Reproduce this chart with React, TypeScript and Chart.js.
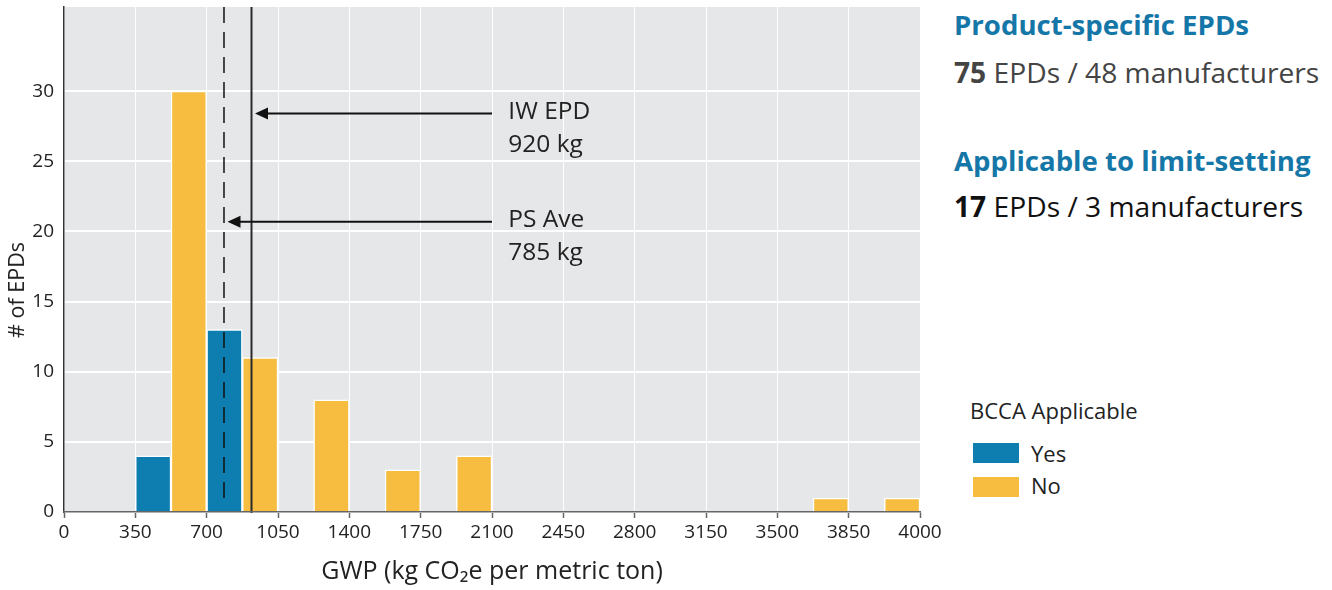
import React, { useEffect, useRef } from "react";
import { Chart, registerables } from "chart.js";

Chart.register(...registerables);

// ---- data ----
const yesBinCenters = [437.5, 787.5];
const yesCounts = [4, 13];
const noBinCenters = [612.5, 962.5, 1312.5, 1662.5, 2012.5, 3762.5, 4112.5];
const noCounts = [30, 11, 8, 3, 4, 1, 1];
const xTickLabels = ["0", "350", "700", "1050", "1400", "1750", "2100", "2450", "2800", "3150", "3500", "3850", "4000"];
const yTickValues = [0, 5, 10, 15, 20, 25, 30];
const seriesNames = ["Yes", "No"];
const markerValues = [920, 785];
const markerNames = ["IW EPD", "PS Ave"];
const markerTexts = ["920 kg", "785 kg"];
const yAxisTitle = "# of EPDs";

// ---- styles / layout ----
const FONT = "'Open Sans', 'Noto Sans', sans-serif";
const BLUE = "#0e7db0";
const ORANGE = "#f6bd41";
const PLOT_BG = "#e6e7e9";
const TEXT = "#222";
const markerArrowLevels = [28.4, 20.7];
const arrowTailValue = 2100;
const annotationTextValue = 2180;

const bgPlugin = {
  id: "plotBg",
  beforeDraw(chart: any) {
    const { ctx, chartArea: a } = chart;
    ctx.save();
    ctx.fillStyle = PLOT_BG;
    ctx.fillRect(a.left, a.top, a.right - a.left, a.bottom - a.top);
    ctx.restore();
  },
  afterDraw(chart: any) {
    const { ctx } = chart;
    ctx.save();
    ctx.translate(18, 290);
    ctx.rotate(-Math.PI / 2);
    ctx.fillStyle = TEXT;
    ctx.font = `21.5px ${FONT}`;
    ctx.textAlign = "center";
    ctx.textBaseline = "middle";
    ctx.fillText(yAxisTitle, 0, 0);
    ctx.restore();
  },
};

const markerPlugin = {
  id: "markers",
  afterDatasetsDraw(chart: any) {
    const { ctx, chartArea: a, scales } = chart;
    const x = scales.x;
    const y = scales.y;
    ctx.save();
    markerValues.forEach((v, i) => {
      const px = x.getPixelForValue(v);
      ctx.beginPath();
      if (i === 0) {
        ctx.setLineDash([]);
        ctx.strokeStyle = "#2a2a2a";
        ctx.lineWidth = 2;
        ctx.moveTo(px, a.top);
        ctx.lineTo(px, a.bottom + 1);
      } else {
        ctx.setLineDash([16, 9]);
        ctx.strokeStyle = "#111";
        ctx.lineWidth = 1.5;
        ctx.moveTo(px, a.top);
        ctx.lineTo(px, a.bottom - 6);
      }
      ctx.stroke();
      ctx.setLineDash([]);

      // arrow
      const ay = y.getPixelForValue(markerArrowLevels[i]);
      const tip = px + 3.5;
      const tail = x.getPixelForValue(arrowTailValue);
      ctx.strokeStyle = "#111";
      ctx.lineWidth = 2;
      ctx.beginPath();
      ctx.moveTo(tail, ay);
      ctx.lineTo(tip + 10, ay);
      ctx.stroke();
      ctx.fillStyle = "#111";
      ctx.beginPath();
      ctx.moveTo(tip, ay);
      ctx.lineTo(tip + 13, ay - 6);
      ctx.lineTo(tip + 13, ay + 6);
      ctx.closePath();
      ctx.fill();

      // text
      const tx = x.getPixelForValue(annotationTextValue);
      ctx.fillStyle = TEXT;
      ctx.font = `24.5px ${FONT}`;
      ctx.textAlign = "left";
      ctx.textBaseline = "alphabetic";
      ctx.fillText(markerNames[i], tx, ay + 5.5);
      ctx.fillText(markerTexts[i], tx, ay + 38.5);
    });
    ctx.restore();
  },
};

export default function App() {
  const canvasRef = useRef<HTMLCanvasElement | null>(null);

  useEffect(() => {
    if (!canvasRef.current) return;
    Chart.defaults.font.family = FONT;
    const chart = new Chart(canvasRef.current, {
      type: "bar",
      data: {
        datasets: [
          {
            label: seriesNames[0],
            data: yesBinCenters.map((xv, i) => ({ x: xv, y: yesCounts[i] })),
            backgroundColor: BLUE,
            borderColor: "#ffffff",
            borderWidth: 1.5,
            barPercentage: 1,
            categoryPercentage: 1,
            grouped: false,
          } as any,
          {
            label: seriesNames[1],
            data: noBinCenters.map((xv, i) => ({ x: xv, y: noCounts[i] })),
            backgroundColor: ORANGE,
            borderColor: "#ffffff",
            borderWidth: 1.5,
            barPercentage: 1,
            categoryPercentage: 1,
            grouped: false,
          } as any,
        ],
      },
      options: {
        responsive: false,
        animation: false,
        devicePixelRatio: 1,
        layout: { padding: { left: 0, top: 7, right: 25, bottom: 0 } },
        plugins: {
          legend: { display: false },
          tooltip: { enabled: false },
        },
        scales: {
          x: {
            type: "linear",
            min: 0,
            max: 4200,
            offset: false,
            ticks: {
              stepSize: 350,
              autoSkip: false,
              maxRotation: 0,
              color: TEXT,
              font: { size: 19, family: FONT },
              padding: 3,
              callback: (_v: any, i: number) => xTickLabels[i],
            },
            grid: {
              offset: false,
              color: "rgba(255,255,255,0.95)",
              lineWidth: 1,
              tickColor: "#666",
              tickLength: 6,
              tickWidth: 1.5,
            } as any,
            border: { color: "#666", width: 1.5, z: 1 } as any,
            title: {
              display: true,
              text: "GWP (kg CO\u2082e per metric ton)",
              color: TEXT,
              font: { size: 25, family: FONT },
              padding: { top: 0, bottom: 3 },
            },
            afterFit: (s: any) => {
              s.height = 78;
              s.paddingLeft = 0;
              s.paddingRight = 0;
            },
          },
          y: {
            min: 0,
            max: 36,
            ticks: {
              stepSize: 5,
              color: TEXT,
              font: { size: 19, family: FONT },
              padding: 10,
            },
            afterBuildTicks: (s: any) => {
              s.ticks = yTickValues.map((v) => ({ value: v }));
            },
            grid: { color: "#ffffff", lineWidth: 2, drawTicks: false },
            border: { color: "#333", width: 1.5 },
            title: { display: false },
            afterFit: (s: any) => {
              s.width = 64;
              s.paddingTop = 0;
              s.paddingBottom = 0;
            },
          },
        },
      } as any,
      plugins: [bgPlugin, markerPlugin],
    });
    return () => chart.destroy();
  }, []);

  const abs = (left: number, baseline: number, size: number, extra: React.CSSProperties = {}): React.CSSProperties => ({
    position: "absolute",
    left,
    top: baseline - 1.069 * size,
    fontSize: size,
    lineHeight: "normal",
    fontFamily: FONT,
    whiteSpace: "nowrap",
    margin: 0,
    ...extra,
  });

  return (
    <div style={{ position: "fixed", left: 0, top: 0, width: 1332, height: 590, background: "#fff", overflow: "hidden" }}>
      <canvas ref={canvasRef} width={945} height={590} style={{ position: "absolute", left: 0, top: 0, display: "block" }} />
      <div style={abs(954, 35, 27.6, { color: "#1577a8", fontWeight: 700 })}>Product-specific EPDs</div>
      <div style={abs(954, 83, 28.2, { color: "#444" })}>
        <b>75</b> EPDs / 48 manufacturers
      </div>
      <div style={abs(954, 171, 27.6, { color: "#1577a8", fontWeight: 700 })}>Applicable to limit-setting</div>
      <div style={abs(954, 217, 28.2, { color: "#111" })}>
        <b>17</b> EPDs / 3 manufacturers
      </div>
      <div style={abs(970, 419, 22, { color: TEXT })}>BCCA Applicable</div>
      <div style={{ position: "absolute", left: 973, top: 443, width: 46, height: 20, background: BLUE }} />
      <div style={abs(1031, 462, 22, { color: TEXT })}>{seriesNames[0]}</div>
      <div style={{ position: "absolute", left: 973, top: 477, width: 46, height: 20, background: ORANGE }} />
      <div style={abs(1031, 494, 22, { color: TEXT })}>{seriesNames[1]}</div>
    </div>
  );
}
